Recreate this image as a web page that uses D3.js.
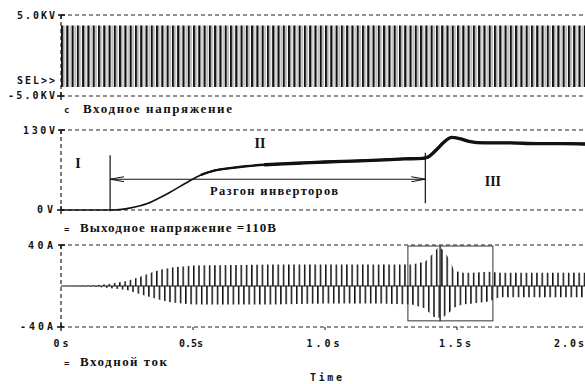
<!DOCTYPE html>
<html>
<head>
<meta charset="utf-8">
<script src="https://cdn.jsdelivr.net/npm/d3@7"></script>
<style>
  body { margin: 0; background: #fff; }
  svg { display: block; }
</style>
</head>
<body>
<div id="chart"></div>
<script>
// time axis (s)
const timeTicks = [0, 0.5, 1.0, 1.5, 2.0];
const timeTickLabels = ['0s', '0.5s', '1.0s', '1.5s', '2.0s'];

// input voltage, envelope of the 50 Hz trace (kV)
const vinT  = [0, 0.5, 1.0, 1.5, 2.0];
const vinHi = [3.7, 3.7, 3.7, 3.7, 3.7];
const vinLo = [-3.9, -3.9, -3.9, -3.9, -3.9];

// output voltage (V)
const outT = [0, 0.19, 0.23, 0.26, 0.3, 0.33, 0.37, 0.41, 0.45, 0.49, 0.53, 0.58, 0.64, 0.7, 0.77, 0.84,
              0.92, 1.0, 1.1, 1.2, 1.3, 1.37, 1.39, 1.42, 1.45, 1.48, 1.51, 1.55, 1.6, 1.7, 1.8, 1.9, 2.0];
const outV = [0, 0, 1, 3, 7, 11, 19, 28, 38, 48, 57, 64, 68, 71, 73.5, 75,
              76.5, 78, 79.5, 81, 83, 84, 86, 97, 110, 118, 116, 111, 109, 109, 108, 108, 107];

// input current, envelope of the 50 Hz trace (A)
const curT  = [0, 0.12, 0.18, 0.25, 0.3, 0.34, 0.38, 0.42, 0.5, 0.8, 1.0, 1.2, 1.33, 1.38, 1.41, 1.43,
               1.45, 1.47, 1.49, 1.52, 1.56, 1.62, 1.66, 1.8, 2.0];
const curHi = [0, 0.5, 2, 5, 9, 13, 16, 18, 20, 21, 21, 21, 21, 24, 32, 38,
               35, 26, 15, 13, 13, 14, 13, 13, 13];
const curLo = [0, -0.5, -2, -4, -8, -11, -14, -16, -18, -18, -17, -17, -18, -22, -30, -31,
               -30, -26, -21, -18, -17, -15, -11, -11, -11];

// annotations
const phaseLabels = ['I', 'II', 'III'];
const phaseT = [0.064, 0.754, 1.636];
const phaseV = [76, 109, 47];
const rampT = [0.186, 1.38];
const rampLineV = [[-2, 89], [11, 93]];
const rampArrowV = 50;
const rampLabel = 'Разгон инверторов';
const boxT = [[1.314, 1.436], [1.436, 1.636]];
const boxA = [-34, 39];

const width = 585, height = 384;
const svg = d3.select('#chart').append('svg')
  .attr('width', width).attr('height', height);

const x = d3.scaleLinear().domain([0, 2]).range([61, 589]);
const yTop = d3.scaleLinear().domain([-5, 5]).range([96, 15]);
const yMid = d3.scaleLinear().domain([0, 130]).range([210, 130]);
const yBot = d3.scaleLinear().domain([-40, 40]).range([327, 245]);

const ink = '#111';
const mono = '"DejaVu Sans Mono", monospace';
const serif = '"Liberation Serif", "DejaVu Serif", serif';
const period = x(0.02) - x(0);

// hatch patterns standing in for the 50 Hz carrier
const defs = svg.append('defs');
const topPat = defs.append('pattern').attr('id', 'hatchTop')
  .attr('patternUnits', 'userSpaceOnUse').attr('x', x(0)).attr('y', 0)
  .attr('width', period).attr('height', height);
topPat.append('rect').attr('x', 0).attr('y', 0).attr('width', 2.2).attr('height', height).attr('fill', ink);
topPat.append('rect').attr('x', 3.2).attr('y', 0).attr('width', 0.9).attr('height', height).attr('fill', '#999');

const upPat = defs.append('pattern').attr('id', 'hatchUp')
  .attr('patternUnits', 'userSpaceOnUse').attr('x', x(0)).attr('y', 0)
  .attr('width', period).attr('height', height);
upPat.append('rect').attr('x', 0).attr('y', 0).attr('width', 1.5).attr('height', height).attr('fill', ink);

const downPat = defs.append('pattern').attr('id', 'hatchDown')
  .attr('patternUnits', 'userSpaceOnUse').attr('x', x(0) + period / 2).attr('y', 0)
  .attr('width', period).attr('height', height);
downPat.append('rect').attr('x', 0).attr('y', 0).attr('width', 1.5).attr('height', height).attr('fill', ink);

defs.append('marker').attr('id', 'arrow')
  .attr('viewBox', '0 0 14 6').attr('refX', 14).attr('refY', 3)
  .attr('markerWidth', 14).attr('markerHeight', 6).attr('markerUnits', 'userSpaceOnUse')
  .attr('orient', 'auto-start-reverse')
  .append('path').attr('d', 'M0,0.5 L14,3 L0,5.5').attr('fill', 'none').attr('stroke', ink).attr('stroke-width', 1);

// panel frames: dashed top/bottom lines, dashed left axis, y labels
function frame(y, labels) {
  const [lo, hi] = y.domain();
  const g = svg.append('g');
  g.selectAll('line.h').data([lo, hi]).join('line')
    .attr('x1', x(0)).attr('x2', width)
    .attr('y1', d => y(d)).attr('y2', d => y(d))
    .attr('stroke', '#222').attr('stroke-width', 1.2).attr('stroke-dasharray', '4,3');
  g.append('line')
    .attr('x1', x(0)).attr('x2', x(0)).attr('y1', y(hi)).attr('y2', y(lo))
    .attr('stroke', '#222').attr('stroke-width', 1.2).attr('stroke-dasharray', '4,3');
  // "T" at the top, "+" at the bottom
  g.append('path')
    .attr('d', `M${x(0) - 3},${y(hi)}H${x(0) + 4}M${x(0)},${y(hi)}v4`)
    .attr('stroke', ink).attr('stroke-width', 1.3);
  g.append('path')
    .attr('d', `M${x(0) - 4},${y(lo)}H${x(0) + 3}M${x(0)},${y(lo) - 4}v8`)
    .attr('stroke', ink).attr('stroke-width', 1.3);
  g.selectAll('text').data(labels).join('text')
    .attr('x', d => d.x).attr('y', d => d.y)
    .attr('text-anchor', 'end')
    .attr('textLength', d => d.w).attr('lengthAdjust', 'spacing')
    .attr('font-family', mono).attr('font-weight', 'bold').attr('font-size', 10)
    .attr('fill', ink)
    .text(d => d.t);
}

frame(yTop, [
  { t: '5.0KV', x: 55, y: yTop(5) + 4, w: 38 },
  { t: 'SEL>>', x: 55, y: 84, w: 38 },
  { t: '-5.0KV', x: 55, y: yTop(-5) + 3, w: 47 }
]);
frame(yMid, [
  { t: '130V', x: 55, y: yMid(130) + 4, w: 32 },
  { t: '0V', x: 53, y: yMid(0) + 3, w: 16 }
]);
frame(yBot, [
  { t: '40A', x: 53, y: yBot(40) + 4, w: 25 },
  { t: '-40A', x: 53, y: yBot(-40) + 3, w: 33 }
]);

// legends
function legend(mark, label, y0, x0, w) {
  svg.append('text').attr('x', 64).attr('y', y0)
    .attr('font-family', mono).attr('font-weight', 'bold').attr('font-size', 9)
    .attr('fill', ink).text(mark);
  svg.append('text').attr('x', x0).attr('y', y0)
    .attr('textLength', w).attr('lengthAdjust', 'spacing')
    .attr('font-family', serif).attr('font-weight', 'bold').attr('font-size', 13)
    .attr('fill', ink).text(label);
}
legend('c', 'Входное напряжение', 113, 83, 149);
legend('=', 'Выходное напряжение =110В', 232, 80, 196);
legend('=', 'Входной ток', 366, 80, 87);

// --- top panel: input voltage
const vin = vinT.map((t, i) => ({ t, hi: vinHi[i], lo: vinLo[i] }));
svg.append('path').datum(vin)
  .attr('fill', 'url(#hatchTop)')
  .attr('d', d3.area().x(d => x(d.t)).y0(d => yTop(d.lo)).y1(d => yTop(d.hi)));

// --- middle panel: output voltage (ripple makes the trace thicker later on)
const out = outT.map((t, i) => ({ t, v: outV[i] }));
const outLine = d3.line().x(d => x(d.t)).y(d => yMid(d.v)).curve(d3.curveMonotoneX);
svg.append('path').datum(out)
  .attr('fill', 'none').attr('stroke', ink).attr('stroke-width', 1.6)
  .attr('d', outLine);
svg.append('path').datum(out.filter(d => d.t >= 0.53))
  .attr('fill', 'none').attr('stroke', ink).attr('stroke-width', 2.4)
  .attr('d', outLine);
svg.append('path').datum(out.filter(d => d.t >= 0.77))
  .attr('fill', 'none').attr('stroke', ink).attr('stroke-width', 3.3)
  .attr('d', outLine);

// ramp-up markers
svg.selectAll('line.ramp').data(rampT).join('line')
  .attr('x1', d => x(d)).attr('x2', d => x(d))
  .attr('y1', (d, i) => yMid(rampLineV[i][0])).attr('y2', (d, i) => yMid(rampLineV[i][1]))
  .attr('stroke', ink).attr('stroke-width', 1.2);
svg.append('line')
  .attr('x1', x(rampT[0])).attr('x2', x(rampT[1]))
  .attr('y1', yMid(rampArrowV)).attr('y2', yMid(rampArrowV))
  .attr('stroke', ink).attr('stroke-width', 1.1)
  .attr('marker-start', 'url(#arrow)').attr('marker-end', 'url(#arrow)');
svg.append('text').attr('x', 210).attr('y', 195)
  .attr('textLength', 128).attr('lengthAdjust', 'spacing')
  .attr('font-family', serif).attr('font-weight', 'bold').attr('font-size', 12.5)
  .attr('fill', ink).text(rampLabel);

svg.selectAll('text.phase').data(phaseLabels).join('text')
  .attr('x', (d, i) => x(phaseT[i])).attr('y', (d, i) => yMid(phaseV[i]) + 5)
  .attr('text-anchor', 'middle')
  .attr('font-family', serif).attr('font-weight', 'bold').attr('font-size', 14)
  .attr('fill', ink).text(d => d);

// --- bottom panel: input current
const cur = curT.map((t, i) => ({ t, hi: curHi[i], lo: curLo[i] }));
svg.append('path').datum(cur)
  .attr('fill', 'url(#hatchUp)')
  .attr('d', d3.area().x(d => x(d.t)).y0(yBot(0)).y1(d => yBot(d.hi)));
svg.append('path').datum(cur)
  .attr('fill', 'url(#hatchDown)')
  .attr('d', d3.area().x(d => x(d.t)).y0(yBot(0)).y1(d => yBot(d.lo)));
svg.append('line')
  .attr('x1', x(0)).attr('x2', width).attr('y1', yBot(0)).attr('y2', yBot(0))
  .attr('stroke', ink).attr('stroke-width', 1);

svg.selectAll('rect.box').data(boxT).join('rect')
  .attr('x', d => x(d[0])).attr('width', d => x(d[1]) - x(d[0]))
  .attr('y', yBot(boxA[1])).attr('height', yBot(boxA[0]) - yBot(boxA[1]))
  .attr('fill', 'none').attr('stroke', '#333').attr('stroke-width', 1);

// time axis
svg.selectAll('line.xt').data(timeTicks.slice(1, 4)).join('line')
  .attr('x1', d => x(d)).attr('x2', d => x(d))
  .attr('y1', yBot(-40)).attr('y2', yBot(-40) + 3)
  .attr('stroke', ink).attr('stroke-width', 1);
svg.selectAll('text.xl').data(timeTickLabels).join('text')
  .attr('x', (d, i) => i === 4 ? width - 1 : x(timeTicks[i]) - (i === 0 ? 0 : 2))
  .attr('y', 347)
  .attr('text-anchor', (d, i) => i === 4 ? 'end' : 'middle')
  .attr('textLength', (d, i) => [15, 24, 33, 32, 30][i]).attr('lengthAdjust', 'spacing')
  .attr('font-family', mono).attr('font-weight', 'bold').attr('font-size', 10)
  .attr('fill', ink).text(d => d);
svg.append('text').attr('x', 326).attr('y', 381)
  .attr('text-anchor', 'middle')
  .attr('textLength', 32).attr('lengthAdjust', 'spacing')
  .attr('font-family', mono).attr('font-weight', 'bold').attr('font-size', 10)
  .attr('fill', ink).text('Time');
</script>
</body>
</html>
